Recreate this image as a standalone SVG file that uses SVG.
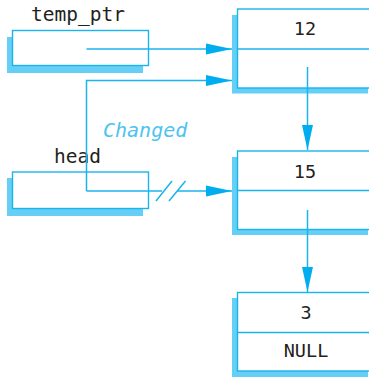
<svg xmlns="http://www.w3.org/2000/svg" width="369" height="377" viewBox="0 0 369 377">
<style>
.shadow{fill:#66cff5;stroke:none}
.box{fill:#ffffff;stroke:#1ab4ec;stroke-width:1.4}
.div{stroke:#1ab4ec;stroke-width:1.4}
.ln{fill:none;stroke:#1ab4ec;stroke-width:1.5}
.lbl{font-family:"DejaVu Sans Mono","Liberation Mono",monospace;font-size:19.5px;fill:#231f20}
.val{font-family:"DejaVu Sans Mono","Liberation Mono",monospace;font-size:18.5px;fill:#231f20;text-anchor:middle}
.chg{font-family:"DejaVu Sans Mono","Liberation Mono",monospace;font-size:20px;font-style:italic;fill:#4cc4f0}
</style>
<defs>
<marker id="ah" markerUnits="userSpaceOnUse" markerWidth="27" markerHeight="12" refX="26" refY="6" orient="auto">
<path d="M0,0.5 L26,6 L0,11.5 Z" fill="#00aeef"/>
</marker>
<marker id="av" markerUnits="userSpaceOnUse" markerWidth="26" markerHeight="12" refX="25" refY="6" orient="auto">
<path d="M0,0.5 L25,6 L0,11.5 Z" fill="#00aeef"/>
</marker>
</defs>
<rect width="369" height="377" fill="#ffffff"/>

<g id="temp_ptr">
<text class="lbl" x="31" y="21">temp_ptr</text>
<rect class="shadow" x="7" y="37" width="136" height="36"/>
<rect class="box" x="12.5" y="30.5" width="136" height="35"/>
</g>

<g id="head">
<text class="lbl" x="54" y="163">head</text>
<rect class="shadow" x="7" y="178" width="136" height="38"/>
<rect class="box" x="12.5" y="172" width="136" height="36.5"/>
</g>

<g id="node12">
<rect class="shadow" x="232" y="15" width="136" height="78.5"/>
<rect class="box" x="237.5" y="9" width="140" height="79"/>
<line class="div" x1="237.5" y1="49" x2="369" y2="49"/>
<text class="val" x="305" y="35">12</text>
</g>

<g id="node15">
<rect class="shadow" x="232" y="157" width="136" height="78"/>
<rect class="box" x="237.5" y="151" width="140" height="78.5"/>
<line class="div" x1="237.5" y1="190.5" x2="369" y2="190.5"/>
<text class="val" x="305" y="178">15</text>
</g>

<g id="node3">
<rect class="shadow" x="232" y="298" width="136" height="79"/>
<rect class="box" x="237.5" y="292.5" width="140" height="78.5"/>
<line class="div" x1="237.5" y1="332.5" x2="369" y2="332.5"/>
<text class="val" x="306" y="319">3</text>
<text class="val" x="306" y="357">NULL</text>
</g>

<g id="connectors">
<line class="ln" x1="86.5" y1="49" x2="232" y2="49" marker-end="url(#ah)"/>
<polyline class="ln" points="86.5,191 86.5,80.5 232,80.5" marker-end="url(#ah)"/>
<line class="ln" x1="86.5" y1="191" x2="162" y2="191"/>
<line class="ln" x1="177" y1="191" x2="232" y2="191" marker-end="url(#ah)"/>
<line class="ln" x1="156" y1="201" x2="172" y2="181"/>
<line class="ln" x1="169" y1="201" x2="185.5" y2="181"/>
<line class="ln" x1="307.5" y1="67" x2="307.5" y2="150" marker-end="url(#av)"/>
<line class="ln" x1="307.5" y1="210" x2="307.5" y2="292" marker-end="url(#av)"/>
<text class="chg" x="103" y="137">Changed</text>
</g>
</svg>
